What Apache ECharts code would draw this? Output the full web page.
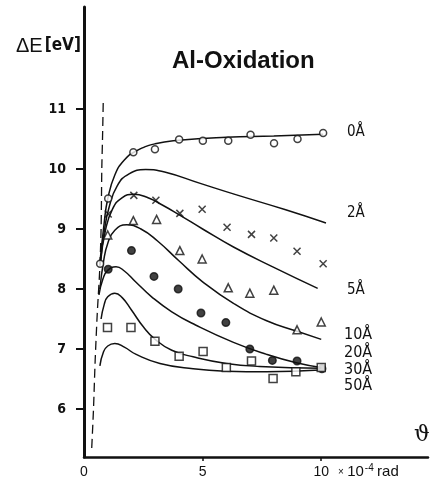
<!DOCTYPE html>
<html>
<head>
<meta charset="utf-8">
<script src="https://cdn.jsdelivr.net/npm/echarts@6/dist/echarts.min.js"></script>
<style>
html,body{margin:0;padding:0;background:#fff;}
#c{width:437px;height:483px;}
</style>
</head>
<body>
<div id="c"></div>
<script>
// ---- data (theta in 10^-4 rad, deltaE in eV) ----
const thetaTicks = [0, 5, 10];
const energyTicks = [6, 7, 8, 9, 10, 11];
const curveLabels = ['0Å', '2Å', '5Å', '10Å', '20Å', '30Å', '50Å'];

const curve0 = [[0.67,8.43],[0.85,9.1],[1.0,9.5],[1.3,9.9],[1.7,10.15],[2.2,10.3],[3,10.42],[4,10.48],[6,10.53],[8,10.55],[10.08,10.58]];
const curve2 = [[0.68,8.4],[0.85,8.95],[1.05,9.35],[1.4,9.72],[1.9,9.92],[2.6,9.99],[3.4,9.95],[4.9,9.76],[6.5,9.56],[8.5,9.32],[10.2,9.1]];
const curve5 = [[0.7,8.45],[0.9,8.97],[1.2,9.33],[1.6,9.52],[2.1,9.58],[2.7,9.52],[3.3,9.4],[4,9.24],[5,9.0],[6.3,8.7],[8,8.36],[9.85,8.01]];
const curve10 = [[0.67,8.0],[0.82,8.45],[1.0,8.76],[1.3,8.98],[1.8,9.07],[2.4,9.0],[3.1,8.8],[4.0,8.47],[5,8.12],[6.3,7.76],[7.7,7.47],[8.95,7.3],[10,7.16]];
const curve20 = [[0.63,7.9],[0.8,8.17],[1.0,8.31],[1.35,8.37],[1.7,8.3],[2.15,8.13],[2.85,7.87],[3.7,7.62],[4.7,7.4],[6.3,7.11],[7.7,6.91],[8.95,6.77],[10,6.69]];
const curve30 = [[0.72,7.5],[0.85,7.74],[1.0,7.87],[1.3,7.93],[1.6,7.86],[2.0,7.65],[2.5,7.37],[3.0,7.16],[3.7,6.98],[4.6,6.87],[6,6.76],[7.4,6.71],[10,6.68]];
const curve50 = [[0.67,6.72],[0.82,6.95],[1.0,7.05],[1.3,7.09],[1.7,7.03],[2.2,6.91],[3.2,6.76],[4.6,6.67],[6,6.63],[7.7,6.62],[9.94,6.65]];
const dashedBoundary = [[0.81,11.1],[0.78,10.5],[0.75,10.0],[0.72,9.0],[0.66,8.3],[0.56,7.6],[0.47,6.8],[0.4,6.0],[0.32,5.3]];

const points0 = [[0.68,8.42],[1.02,9.51],[2.08,10.28],[2.99,10.33],[4.01,10.49],[5.01,10.47],[6.08,10.47],[7.02,10.57],[8.01,10.43],[9.0,10.5],[10.08,10.6]];
const points2 = [[1.02,9.25],[2.1,9.56],[3.03,9.48],[4.04,9.26],[4.98,9.33],[6.03,9.03],[7.06,8.91],[8.0,8.85],[8.98,8.63],[10.08,8.42]];
const points5 = [[1.0,8.9],[2.08,9.14],[3.06,9.16],[4.04,8.64],[4.98,8.5],[6.08,8.02],[6.99,7.93],[8.0,7.98],[8.98,7.32],[10.0,7.45]];
const points10 = [[1.02,8.33],[2.0,8.64],[2.95,8.21],[3.97,8.0],[4.93,7.6],[5.98,7.44],[6.99,7.0],[7.94,6.81],[8.98,6.8],[10.03,6.67]];
const points20 = [[0.99,7.36],[1.98,7.36],[2.99,7.13],[4.01,6.88],[5.02,6.96],[6.0,6.69],[7.06,6.8],[7.97,6.51],[8.93,6.62],[10.0,6.69]];

const ink = '#111';
const chart = echarts.init(document.getElementById('c'), null, {renderer: 'canvas'});

function curve(data) {
  return {type: 'line', data: data, symbol: 'none', smooth: 0.5,
    lineStyle: {color: ink, width: 1.5}, z: 3, silent: true};
}
function pts(data, symbol, size, filled) {
  return {type: 'scatter', data: data, symbol: symbol, symbolSize: size, z: 5,
    itemStyle: {color: filled ? ink : '#fff', borderColor: ink, borderWidth: 1.5}};
}

const labelFont = "'Liberation Sans Narrow','DejaVu Sans Condensed','Liberation Sans',sans-serif";
const rightLabelY = [134, 215, 292, 336, 354, 371, 387];
const rightLabels = curveLabels.map((t, i) => ({
  type: 'text', left: i < 3 ? 347 : 344, top: rightLabelY[i] - 9,
  style: {text: t, font: (i < 3 ? '15px ' : '16px ') + labelFont, fill: ink}
}));

chart.setOption({
  animation: false,
  backgroundColor: '#fff',
  grid: {left: 84, right: 9, top: 7, bottom: 26, containLabel: false},
  xAxis: {
    type: 'value', min: 0, max: 14.5, interval: 5,
    axisLine: {show: true, onZero: false, lineStyle: {color: ink, width: 2.5}},
    axisTick: {show: true, customValues: [5, 10], length: 4, lineStyle: {color: ink, width: 1.5}},
    axisLabel: {show: true, customValues: thetaTicks, margin: 8, color: ink,
      fontSize: 14, fontFamily: 'Liberation Sans'},
    splitLine: {show: false}
  },
  yAxis: {
    type: 'value', min: 5.2, max: 12.7,
    axisLine: {show: true, onZero: false, lineStyle: {color: ink, width: 3}},
    axisTick: {show: true, customValues: energyTicks, length: 8, lineStyle: {color: ink, width: 2}},
    axisLabel: {show: true, customValues: energyTicks, margin: 18, color: ink,
      fontSize: 14, fontWeight: 'bold', fontFamily: labelFont},
    splitLine: {show: false}
  },
  series: [
    {type: 'line', data: dashedBoundary, symbol: 'none', smooth: 0.3,
      lineStyle: {color: ink, width: 1.3, type: [9, 5]}, z: 2, silent: true},
    curve(curve0), curve(curve2), curve(curve5), curve(curve10),
    curve(curve20), curve(curve30), curve(curve50),
    pts(points0, 'circle', 7, false),
    {type: 'scatter', data: points2, symbol: 'path://M0,0L10,10M10,0L0,10', symbolSize: 7, z: 5,
      itemStyle: {color: 'none', borderColor: ink, borderWidth: 1.5}},
    pts(points5, 'triangle', 8, false),
    pts(points10, 'circle', 7.5, true),
    pts(points20, 'rect', 8, false)
  ],
  graphic: [
    {type: 'text', left: 16, top: 36,
      style: {text: '{a|ΔE}{b|[eV]}', rich: {
        a: {font: "20px 'Liberation Sans',sans-serif", fill: ink},
        b: {font: "bold 17px " + labelFont, fill: ink, padding: [0, 0, 0, 2]}}}},
    {type: 'text', left: 172, top: 49,
      style: {text: 'Al-Oxidation', font: "bold 24px 'Liberation Sans',sans-serif", fill: ink}},
    {type: 'text', left: 414, top: 424,
      style: {text: 'ϑ', font: "22px 'DejaVu Serif',serif", fill: ink}},
    {type: 'text', left: 338, top: 463,
      style: {text: '{x|×} {n|10}{s|-4} {r|rad}', rich: {
        x: {font: "10px 'Liberation Sans',sans-serif", fill: ink},
        n: {font: "15px 'Liberation Sans',sans-serif", fill: ink},
        s: {font: "10px 'Liberation Sans',sans-serif", fill: ink, padding: [0, 0, 8, 1]},
        r: {font: "15px 'Liberation Sans',sans-serif", fill: ink}}}}
  ].concat(rightLabels)
});
</script>
</body>
</html>
